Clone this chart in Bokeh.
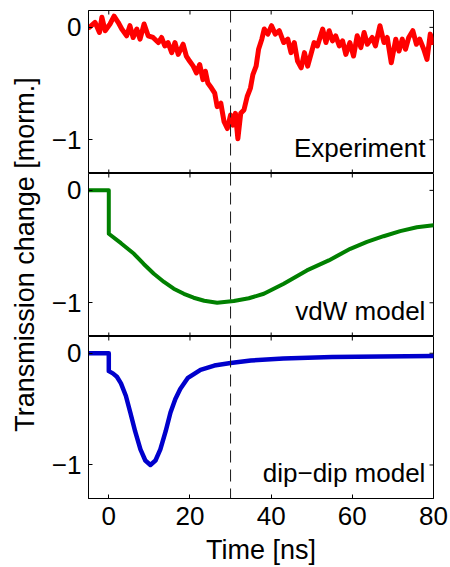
from bokeh.plotting import figure
from bokeh.layouts import column, row
from bokeh.models import Span, Label, LinearAxis, FixedTicker, Range1d
from bokeh.embed import file_html
from bokeh.resources import INLINE

# ---------------- data ----------------
exp_t = [-4.8, -3.4, -2.3, -1.7, -0.9, 0.3, 1.3, 2.3, 3.2, 4.4, 5.2, 6.0, 6.9, 7.7, 8.7, 9.7,
         10.9, 12.2, 13.0, 13.8, 14.6, 15.5, 16.3, 17.1, 18.3, 19.1, 19.9, 20.8, 21.6, 22.4,
         23.2, 23.8, 24.4, 25.3, 26.1, 26.7, 27.6, 28.4, 29.2, 30.0, 30.6, 31.2, 31.8, 32.5,
         33.3, 34.1, 34.9, 35.5, 36.3, 36.9, 37.7, 38.3, 39.2, 40.1, 41.0, 42.0, 43.1, 44.1,
         44.9, 45.7, 46.5, 47.4, 48.2, 49.0, 49.8, 50.6, 51.4, 52.7, 53.5, 54.3, 55.1, 55.9,
         56.8, 57.6, 58.4, 59.4, 60.3, 61.2, 62.1, 62.9, 63.7, 64.9, 65.7, 66.8, 67.8, 68.6,
         69.6, 70.7, 71.5, 72.3, 73.1, 73.9, 74.9, 75.8, 76.6, 77.6, 78.4, 79.2, 79.8]
exp_y = [0, 0.045, -0.045, 0.09, -0.03, 0.03, 0.1, 0.045, -0.015, -0.075, 0.015, -0.09, -0.015,
         -0.105, 0.03, -0.075, -0.09, -0.135, -0.09, -0.165, -0.135, -0.225, -0.135, -0.24,
         -0.15, -0.255, -0.3, -0.345, -0.405, -0.33, -0.465, -0.39, -0.495, -0.54, -0.585,
         -0.705, -0.675, -0.84, -0.9, -0.78, -0.87, -0.765, -0.99, -0.765, -0.735, -0.615,
         -0.54, -0.42, -0.345, -0.195, -0.105, -0.015, -0.06, 0.015, -0.06, -0.03, -0.135,
         -0.105, -0.225, -0.135, -0.3, -0.36, -0.225, -0.345, -0.24, -0.135, -0.165, -0.015,
         -0.135, -0.03, -0.12, -0.075, -0.165, -0.12, -0.24, -0.135, -0.255, -0.075, -0.18,
         -0.045, -0.15, -0.09, -0.165, 0.015, -0.135, -0.09, -0.315, -0.105, -0.21, -0.105,
         -0.195, -0.09, -0.03, -0.15, -0.105, -0.195, -0.285, -0.06, -0.135]

vdw_t = [-5, 0, 0, 3.0, 6.2, 8.6, 11.1, 13.6, 16.0, 18.5, 20.9, 23.5, 26.7, 30.8, 34.5,
         38.2, 43.1, 48.8, 54.2, 59.5, 63.6, 67.7, 71.8, 75.9, 80]
vdw_y = [0, 0, -0.386, -0.47, -0.564, -0.655, -0.742, -0.815, -0.875, -0.92, -0.955, -0.982,
         -1.0, -0.985, -0.96, -0.92, -0.83, -0.712, -0.623, -0.52, -0.458, -0.408, -0.363,
         -0.328, -0.31]

dd_t = [-5, 0, 0, 1.0, 2.0, 3.0, 4.2, 5.3, 6.5, 7.8, 9.0, 10.25, 11.5, 12.7, 14.0, 15.2,
        16.4, 17.6, 19.5, 22.6, 26.0, 30.0, 35.0, 43.0, 55.0, 67.0, 80]
dd_y = [0, 0, -0.16, -0.18, -0.21, -0.27, -0.38, -0.53, -0.70, -0.86, -0.96, -1.0, -0.96,
        -0.86, -0.70, -0.53, -0.41, -0.32, -0.22, -0.148, -0.11, -0.088, -0.065, -0.047,
        -0.034, -0.028, -0.024]

x_ticks = [0, 20, 40, 60, 80]
y_ticks = [0, -1]
y_tick_labels = {0: "0", -1: "\u22121"}
panel_labels = ["Experiment", "vdW model", "dip\u2212dip model"]
marker_time = 30
x_label = "Time [ns]"
y_label = "Transmission change [morm.]"

X_MIN, X_MAX = -5, 80
Y_MIN, Y_MAX = -1.3, 0.15

FONT = "Liberation Sans"
FS_TICK = "26px"
FS_TITLE = "27px"
FS_LABEL = "26px"
TICK = 4

xr = Range1d(X_MIN, X_MAX)


def inward_ticks(p, bottom_too):
    nx, ny = len(x_ticks), len(y_ticks)
    kw = dict(length=TICK, length_units="screen", angle_units="deg",
              line_color="black", line_width=1)
    p.ray(x=x_ticks, y=[Y_MAX] * nx, angle=-90, **kw)
    if bottom_too:
        p.ray(x=x_ticks, y=[Y_MIN] * nx, angle=90, **kw)
    p.ray(x=[X_MAX] * ny, y=y_ticks, angle=180, **kw)


def make_panel(t, y, color, lw, label, height, top, bottom, show_x):
    p = figure(width=405, height=height, x_range=xr, y_range=Range1d(Y_MIN, Y_MAX),
               output_backend="svg", toolbar_location=None,
               x_axis_location=None, y_axis_location=None,
               min_border_left=43, min_border_right=17,
               min_border_top=top, min_border_bottom=bottom)
    p.grid.grid_line_color = None
    p.xgrid.visible = False
    p.ygrid.visible = False
    p.outline_line_color = "black"
    p.outline_line_width = 1
    p.outline_line_alpha = 1
    p.background_fill_color = "white"
    p.border_fill_color = "white"

    la = LinearAxis(ticker=FixedTicker(ticks=y_ticks))
    la.major_label_overrides = y_tick_labels
    la.major_label_text_font = FONT
    la.major_label_text_font_size = FS_TICK
    la.major_label_text_color = "black"
    la.major_label_standoff = 7
    la.major_tick_out = 0
    la.major_tick_in = TICK
    la.minor_tick_in = 0
    la.minor_tick_out = 0
    la.axis_line_color = "black"
    p.add_layout(la, "left")

    if show_x:
        ba = LinearAxis(ticker=FixedTicker(ticks=x_ticks))
        ba.major_label_text_font = FONT
        ba.major_label_text_font_size = FS_TICK
        ba.major_label_text_color = "black"
        ba.major_label_standoff = 8
        ba.major_tick_out = 0
        ba.major_tick_in = TICK
        ba.minor_tick_in = 0
        ba.minor_tick_out = 0
        ba.axis_line_color = "black"
        ba.axis_label = x_label
        ba.axis_label_text_font = FONT
        ba.axis_label_text_font_size = FS_TITLE
        ba.axis_label_text_font_style = "normal"
        ba.axis_label_text_color = "black"
        ba.axis_label_standoff = 7
        p.add_layout(ba, "below")
    inward_ticks(p, not show_x)

    p.add_layout(Span(location=marker_time, dimension="height", line_color="#1a1a1a",
                      line_width=1, line_dash="12 7"))
    p.line(t, y, line_color=color, line_width=lw, line_join="round", line_cap="round")
    p.add_layout(Label(x=78, y=-1.07, text=label, text_align="right",
                       text_baseline="alphabetic", text_font=FONT, text_font_size=FS_LABEL,
                       text_color="black"))
    return p


p1 = make_panel(exp_t, exp_y, "#ff0000", 5, panel_labels[0], 173, 10, 0, False)
p2 = make_panel(vdw_t, vdw_y, "#008000", 4, panel_labels[1], 163, 0, 0, False)
p3 = make_panel(dd_t, dd_y, "#0000cc", 4.5, panel_labels[2], 231, 0, 67, True)

# y-axis title spanning all three panels
lab = figure(width=45, height=567, x_range=Range1d(0, 45), y_range=Range1d(0, 567),
             output_backend="svg", toolbar_location=None,
             x_axis_location=None, y_axis_location=None,
             min_border=0)
lab.grid.grid_line_color = None
lab.outline_line_color = None
lab.border_fill_color = "white"
lab.add_layout(Label(x=24, y=567 - 254, text=y_label, angle=90, angle_units="deg",
                     text_align="center", text_baseline="middle", text_font=FONT,
                     text_font_size=FS_TITLE, text_color="black"))

layout = row(lab, column(p1, p2, p3, spacing=0), spacing=0)
open("out.html", "w").write(file_html(layout, INLINE))
